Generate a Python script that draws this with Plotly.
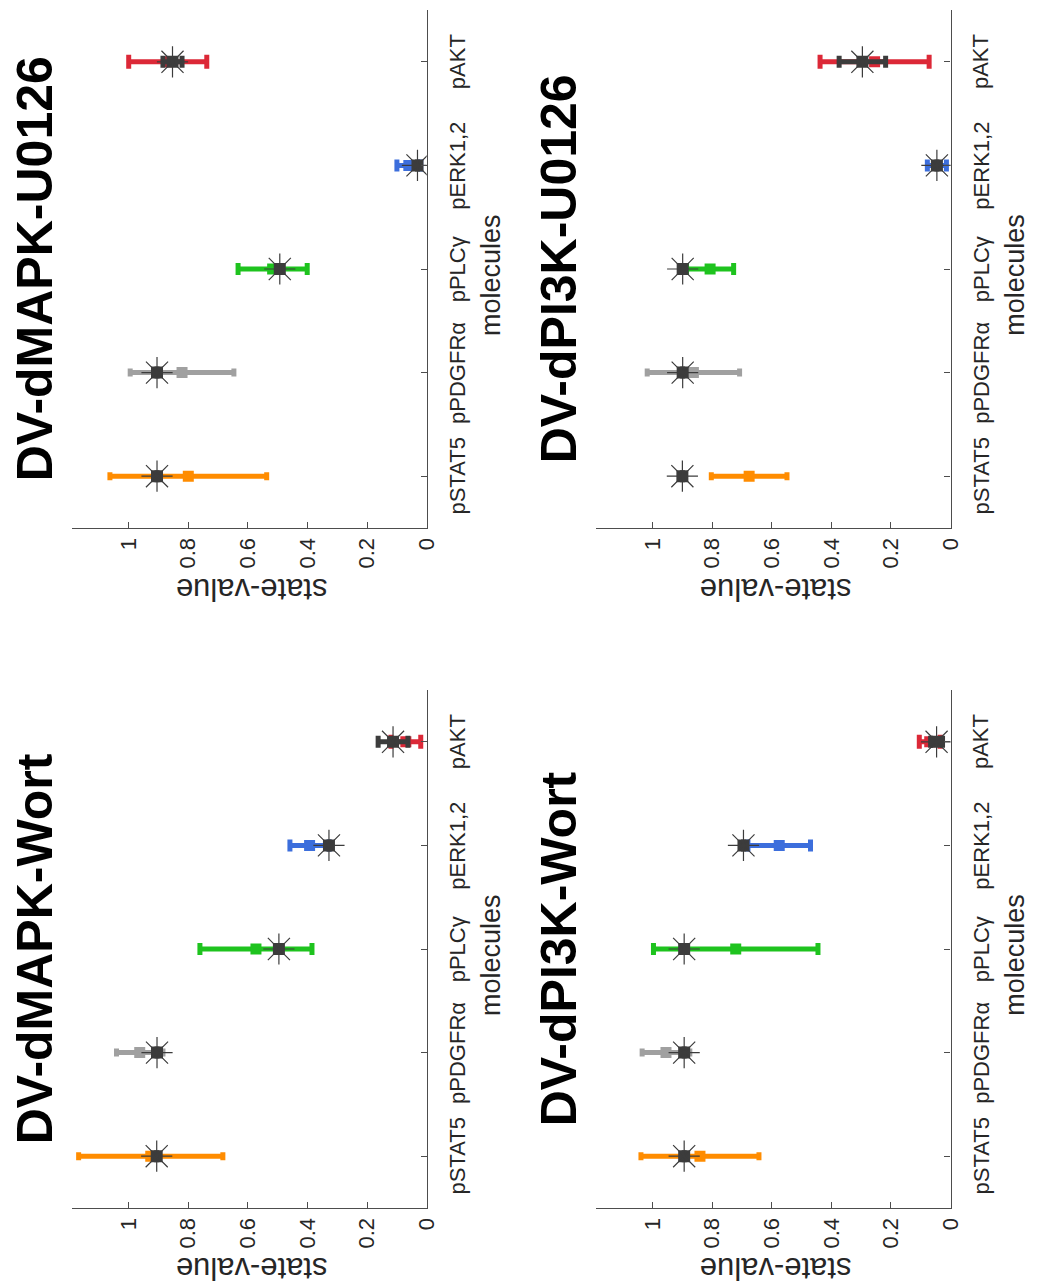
import plotly.graph_objects as go

# Molecules on the category axis (bottom to top)
molecules = ["pSTAT5", "pPDGFR\u03b1", "pPLC\u03b3", "pERK1,2", "pAKT"]
mol_colors = ["#FF8C00", "#A0A0A0", "#1EC31E", "#3C6EDC", "#DC2837"]
ref_color = "#3C3C3C"
value_ticks = [0, 0.2, 0.4, 0.6, 0.8, 1]
value_ticktext = ["0", "0.2", "0.4", "0.6", "0.8", "1"]

# DV-dMAPK-U0126
mapk_u0126_mean = [0.800, 0.821, 0.517, 0.060, 0.869]
mapk_u0126_sd = [0.263, 0.174, 0.116, 0.040, 0.131]
mapk_u0126_ref = [0.905, 0.905, 0.493, 0.031, 0.853]
mapk_u0126_ref_sd = [0.0, 0.0, 0.0, 0.0, 0.032]

# DV-dPI3K-U0126
pi3k_u0126_mean = [0.676, 0.863, 0.807, 0.046, 0.255]
pi3k_u0126_sd = [0.127, 0.155, 0.079, 0.032, 0.183]
pi3k_u0126_ref = [0.900, 0.899, 0.899, 0.046, 0.296]
pi3k_u0126_ref_sd = [0.0, 0.0, 0.0, 0.0, 0.078]

# DV-dMAPK-Wort
mapk_wort_mean = [0.926, 0.963, 0.573, 0.393, 0.070]
mapk_wort_sd = [0.242, 0.078, 0.188, 0.066, 0.050]
mapk_wort_ref = [0.906, 0.905, 0.496, 0.328, 0.113]
mapk_wort_ref_sd = [0.0, 0.0, 0.0, 0.0, 0.050]

# DV-dPI3K-Wort
pi3k_wort_mean = [0.841, 0.955, 0.721, 0.575, 0.070]
pi3k_wort_sd = [0.198, 0.080, 0.276, 0.105, 0.035]
pi3k_wort_ref = [0.894, 0.894, 0.894, 0.695, 0.047]
pi3k_wort_ref_sd = [0.0, 0.0, 0.0, 0.0, 0.020]

panels = [
    ("DV-dMAPK-U0126", mapk_u0126_mean, mapk_u0126_sd, mapk_u0126_ref, mapk_u0126_ref_sd),
    ("DV-dPI3K-U0126", pi3k_u0126_mean, pi3k_u0126_sd, pi3k_u0126_ref, pi3k_u0126_ref_sd),
    ("DV-dMAPK-Wort", mapk_wort_mean, mapk_wort_sd, mapk_wort_ref, mapk_wort_ref_sd),
    ("DV-dPI3K-Wort", pi3k_wort_mean, pi3k_wort_sd, pi3k_wort_ref, pi3k_wort_ref_sd),
]

W, H = 1039, 1286
FONT = "Liberation Sans, Arial, Helvetica, sans-serif"
TEXT = "#262626"
AXIS = "#4D4D4D"

# plot-area boxes in pixels: (left, right, top, bottom)
boxes = [
    (72.7, 431.7, 10, 528),
    (602.9, 961.7, 10, 528),
    (72.7, 431.7, 690, 1208),
    (602.9, 961.7, 690, 1208),
]
cap_w = [4, 4, 6, 6, 7]


def px(x):
    return x / W


def py(y):
    return 1 - y / H


fig = go.Figure()
annotations = []
layout_axes = {}

for i, (title, mean, sd, ref, ref_sd) in enumerate(panels):
    n = i + 1
    xa = "x" if n == 1 else f"x{n}"
    ya = "y" if n == 1 else f"y{n}"
    left, right, top, bottom = boxes[i]

    cats = list(range(1, len(molecules) + 1))
    for k in range(len(molecules)):
        fig.add_trace(go.Scatter(
            x=[mean[k]], y=[cats[k]], xaxis=xa, yaxis=ya, mode="markers",
            marker=dict(symbol="square", size=11, color=mol_colors[k]),
            error_x=dict(type="data", array=[sd[k]], color=mol_colors[k],
                         thickness=5, width=cap_w[k]),
            showlegend=False, hoverinfo="x+y",
        ))
    fig.add_trace(go.Scatter(
        x=ref, y=cats, xaxis=xa, yaxis=ya, mode="markers",
        marker=dict(symbol="square", size=12, color=ref_color),
        error_x=dict(type="data", array=ref_sd, color=ref_color,
                     thickness=5, width=6),
        showlegend=False,
    ))
    fig.add_trace(go.Scatter(
        x=ref, y=cats, xaxis=xa, yaxis=ya, mode="markers",
        marker=dict(symbol="asterisk-open", size=26, color=ref_color,
                    line=dict(width=1.2, color=ref_color)),
        showlegend=False,
    ))

    xkey = "xaxis" if n == 1 else f"xaxis{n}"
    ykey = "yaxis" if n == 1 else f"yaxis{n}"
    layout_axes[xkey] = dict(
        domain=[px(left), px(right)], anchor=ya,
        range=[(right - left) / 301.5, 0],
        tickvals=value_ticks, ticktext=value_ticktext, tickangle=-90,
        ticks="inside", ticklen=6, tickcolor=AXIS,
        tickfont=dict(family=FONT, size=22, color=TEXT),
        showline=True, linecolor=AXIS, linewidth=1.2,
        showgrid=False, zeroline=False, fixedrange=True,
    )
    layout_axes[ykey] = dict(
        domain=[py(bottom), py(top)], anchor=xa, side="right",
        range=[0.5, 5.5], tickvals=cats, showticklabels=False,
        ticks="inside", ticklen=6, tickcolor=AXIS,
        showline=True, linecolor=AXIS, linewidth=1.2,
        showgrid=False, zeroline=False, fixedrange=True,
    )

    mid_y = (top + bottom) / 2
    # panel title, read bottom-to-top
    annotations.append(dict(
        text=f"<b>{title}</b>", xref="paper", yref="paper",
        x=px(left - 37), y=py(mid_y), textangle=-90, showarrow=False,
        font=dict(family=FONT, size=50, color="#000000"),
        xanchor="center", yanchor="middle",
    ))
    # value-axis title
    annotations.append(dict(
        text="state-value", xref="paper", yref="paper",
        x=px((left + right) / 2 + 2), y=py(bottom + 61), textangle=180,
        showarrow=False, font=dict(family=FONT, size=31, color=TEXT),
        xanchor="center", yanchor="middle",
    ))
    # category-axis title
    annotations.append(dict(
        text="molecules", xref="paper", yref="paper",
        x=px(right + 65), y=py(mid_y + 6), textangle=-90,
        showarrow=False, font=dict(family=FONT, size=27, color=TEXT),
        xanchor="center", yanchor="middle",
    ))
    # category tick labels
    for k, name in enumerate(molecules):
        annotations.append(dict(
            text=name, xref="paper", yref=ya,
            x=px(right + 31), y=cats[k], textangle=-90,
            showarrow=False, font=dict(family=FONT, size=22, color=TEXT),
            xanchor="center", yanchor="middle",
        ))

fig.update_layout(
    width=W, height=H, margin=dict(l=0, r=0, t=0, b=0),
    paper_bgcolor="white", plot_bgcolor="white",
    annotations=annotations, **layout_axes,
)

fig.write_html("out.html")
